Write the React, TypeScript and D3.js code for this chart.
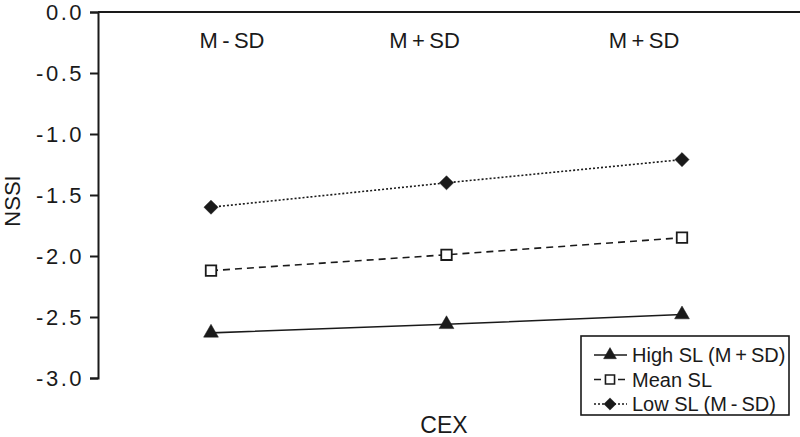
import React, { useEffect, useRef } from "react";
import * as d3 from "d3";

const categories = ["M\u2009-\u2009SD", "M\u2009+\u2009SD", "M\u2009+\u2009SD"];
const yTicks = [0, -0.5, -1.0, -1.5, -2.0, -2.5, -3.0];
const highSL = [-2.63, -2.56, -2.48];
const meanSL = [-2.12, -1.99, -1.85];
const lowSL = [-1.6, -1.4, -1.21];
const seriesNames = ["High SL (M\u2009+\u2009SD)", "Mean SL", "Low SL (M\u2009-\u2009SD)"];

const App = () => {
  const ref = useRef<SVGSVGElement>(null);
  const width = 800;
  const height = 437;

  useEffect(() => {
    const svg = d3.select(ref.current);
    svg.selectAll("*").remove();
    const font = "Liberation Sans, Arial, sans-serif";
    const ink = "#1a1a1a";

    const x = d3.scalePoint<number>().domain([0, 1, 2]).range([211, 682]);
    const y = d3.scaleLinear().domain([-3, 0]).range([378, 12]);

    // top border line
    svg.append("line")
      .attr("x1", 98).attr("x2", 800)
      .attr("y1", y(0)).attr("y2", y(0))
      .attr("stroke", ink).attr("stroke-width", 2);

    // left axis
    const ax = svg.append("g")
      .attr("transform", "translate(98,0)")
      .call(d3.axisLeft(y).tickValues(yTicks).tickSize(8).tickPadding(6).tickFormat(d3.format(".1f")));
    ax.select(".domain").attr("stroke", ink).attr("stroke-width", 2);
    ax.selectAll("line").attr("stroke", ink).attr("stroke-width", 2);
    ax.selectAll("text")
      .style("font-family", font).style("font-size", "22px").style("letter-spacing", "2.5px")
      .attr("fill", ink)
      .text((d: any) => d3.format(".1f")(d).replace("−", "-"));

    // category labels on top
    const labelDx = [21, -22, -38];
    svg.append("g").selectAll("text").data(categories).join("text")
      .attr("x", (_, i) => x(i)! + labelDx[i])
      .attr("y", 48)
      .attr("text-anchor", "middle")
      .style("font-family", font).style("font-size", "22px")
      .attr("fill", ink)
      .text((d) => d);

    // axis titles
    svg.append("text")
      .attr("x", 444).attr("y", 433)
      .attr("text-anchor", "middle")
      .style("font-family", font).style("font-size", "23px").attr("fill", ink)
      .text("CEX");
    svg.append("text")
      .attr("transform", "translate(20,201) rotate(-90)")
      .attr("text-anchor", "middle")
      .style("font-family", font).style("font-size", "22px").attr("fill", ink)
      .text("NSSI");

    const series = [
      { name: seriesNames[0], values: highSL, dash: null, shape: d3.symbolTriangle, size: 95, fill: ink, rot: 0 },
      { name: seriesNames[1], values: meanSL, dash: "7,5", shape: d3.symbolSquare, size: 110, fill: "#fff", rot: 0 },
      { name: seriesNames[2], values: lowSL, dash: "2,2", shape: d3.symbolSquare, size: 100, fill: ink, rot: 45 },
    ];

    const line = d3.line<number>().x((_, i) => x(i)!).y((d) => y(d));

    series.forEach((s) => {
      svg.append("path")
        .attr("d", line(s.values))
        .attr("fill", "none")
        .attr("stroke", ink)
        .attr("stroke-width", 1.6)
        .attr("stroke-dasharray", s.dash);
      svg.append("g").selectAll("path").data(s.values).join("path")
        .attr("transform", (d, i) => `translate(${x(i)},${y(d)}) rotate(${s.rot})`)
        .attr("d", d3.symbol().type(s.shape).size(s.size)())
        .attr("fill", s.fill)
        .attr("stroke", ink)
        .attr("stroke-width", s.fill === "#fff" ? 1.8 : 0.5);
    });

    // legend
    const lg = svg.append("g").attr("transform", "translate(581,336)");
    lg.append("rect")
      .attr("width", 208).attr("height", 79)
      .attr("fill", "#fff").attr("stroke", ink).attr("stroke-width", 1.6);
    series.forEach((s, i) => {
      const ry = 19 + i * 24.5;
      lg.append("line")
        .attr("x1", 13).attr("x2", 46).attr("y1", ry).attr("y2", ry)
        .attr("stroke", ink).attr("stroke-width", 1.5)
        .attr("stroke-dasharray", s.dash);
      lg.append("path")
        .attr("transform", `translate(29,${ry}) rotate(${s.rot})`)
        .attr("d", d3.symbol().type(s.shape).size(s.size * 0.75)())
        .attr("fill", s.fill).attr("stroke", ink)
        .attr("stroke-width", s.fill === "#fff" ? 1.6 : 0.5);
      lg.append("text")
        .attr("x", 51).attr("y", ry + 7)
        .style("font-family", font).style("font-size", "20px")
        .attr("fill", ink)
        .text(s.name);
    });
  }, []);

  return (
    <svg ref={ref} width={width} height={height} style={{ position: "absolute", left: 0, top: 0 }}></svg>
  );
};

export default App;
